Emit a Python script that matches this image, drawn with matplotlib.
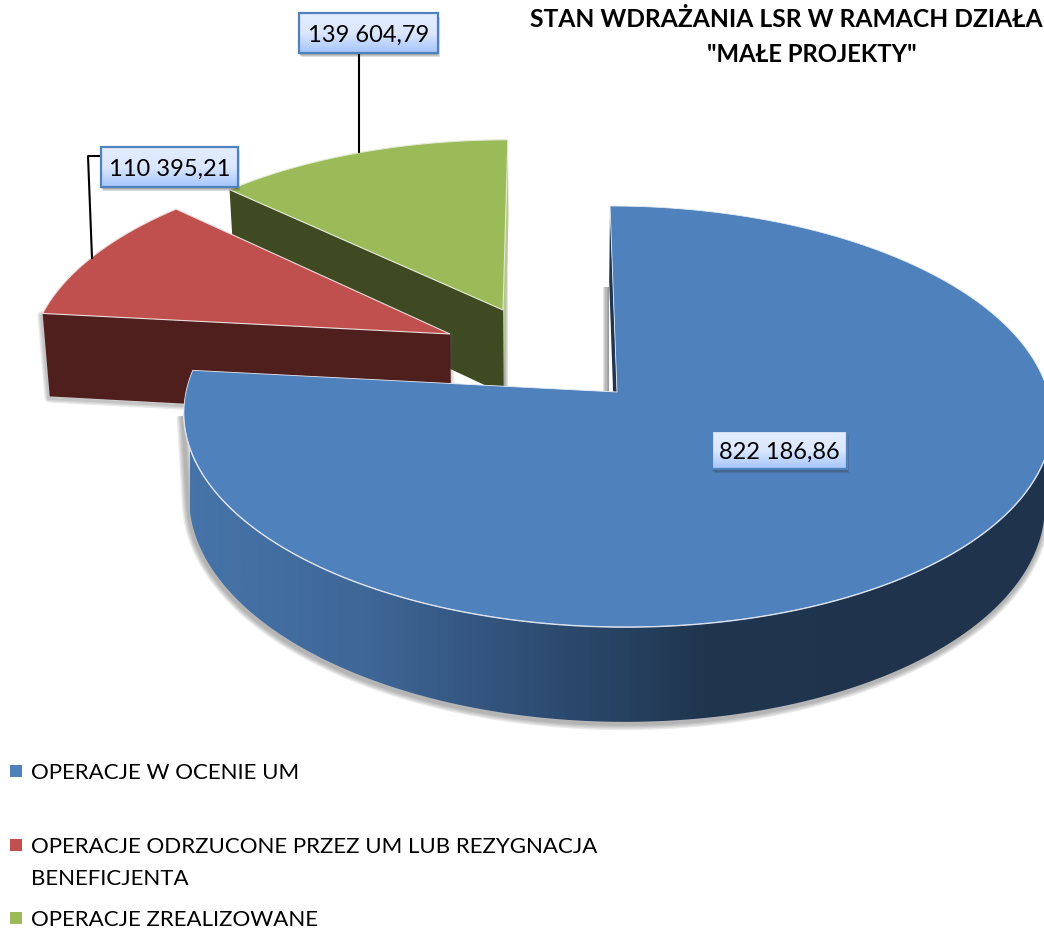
import numpy as np
import matplotlib
matplotlib.use("Agg")
import matplotlib.pyplot as plt
from matplotlib.colors import LinearSegmentedColormap
from matplotlib.patches import Polygon, Rectangle

plt.rcParams['font.family'] = ['Lato', 'DejaVu Sans']

# Data
categories = ["OPERACJE W OCENIE UM",
              "OPERACJE ODRZUCONE PRZEZ UM LUB REZYGNACJA\nBENEFICJENTA",
              "OPERACJE ZREALIZOWANE"]
values = [822186.86, 110395.21, 139604.79]
# first line runs off the right edge in the original, only this much of it shows
title_lines = ["STAN WDRAŻANIA LSR W RAMACH DZIAŁA", '"MAŁE PROJEKTY"']

# Colours
top_colors = ["#4f81bd", "#c0504d", "#9bbb59"]
wall_colors = ["#1f3550", "#4f1f1e", "#3f4a23"]
face_colors = ["#1f3550", "#4f1f1e", "#b4c98a"]

# Pie geometry in pixels: apex of each slice and its size factors
apex = [(617, 392), (450, 334), (503, 310)]
sizes = [(1.0, 1.0), (0.965, 0.95), (0.95, 0.915)]
RX = 431
RY = 207.6
PERSP = 0.116
VANISH_X = 550
DEPTH = 84
BOTTOM_SHRINK = 0.986

fig = plt.figure(figsize=(10.44, 9.30), dpi=100)
ax = fig.add_axes([0, 0, 1, 1])
ax.set_axis_off()


def project(i, ang, r=1.0, low=False):
    # ang in degrees clockwise from 12 o'clock
    u = r * np.sin(np.radians(ang))
    v = r * np.cos(np.radians(ang))
    s = 1 / (1 + PERSP * v)
    cx, cy = apex[i]
    sx, sy = sizes[i]
    x = VANISH_X + (cx - VANISH_X + RX * sx * u) * s
    y = cy - RY * sy * v * s
    if low:
        x = VANISH_X + (x - VANISH_X) * BOTTOM_SHRINK
        y = y + DEPTH * s
    return np.column_stack([x, y])


def soft_outline(xy, z, off=(-1, 2), widths=(9, 7, 5, 3)):
    for w in widths:
        ax.add_patch(Polygon(xy + np.array(off), closed=True, fc="none", ec="#555555",
                             lw=w, alpha=0.13, zorder=z, joinstyle="round"))


def soft_line(xy, z, off=(-1, 2), widths=(9, 7, 5, 3)):
    for w in widths:
        ax.plot(xy[:, 0] + off[0], xy[:, 1] + off[1], color="#555555", lw=w, alpha=0.13,
                zorder=z, solid_capstyle="butt")


def soft_bar(x0, x1, y0, y1, z):
    # shadow that fades from x0 towards x1
    n = 5
    for k in range(n):
        t = k / n
        ax.add_patch(Rectangle((x0, y0), (x1 - x0) * (1 - t), y1 - y0,
                               fc="#555555", ec="none", alpha=0.16, zorder=z))


def gradient_fill(patch, extent, colors, vertical=False, z=1):
    ax.add_patch(patch)
    patch.set_visible(False)
    cmap = LinearSegmentedColormap.from_list("g", colors)
    g = np.linspace(0, 1, 256)
    g = g[:, None] if vertical else g[None, :]
    im = ax.imshow(g, extent=extent, cmap=cmap, aspect="auto", zorder=z,
                   interpolation="bilinear")
    im.set_clip_path(patch)


def value_label(text, x0, y0, x1, y1, z=20):
    for k in [3, 2, 1]:
        ax.add_patch(Rectangle((x0 - 1 + k, y0 + 1 + k), x1 - x0, y1 - y0, fc="#333333",
                               ec="none", alpha=0.16, zorder=z))
    box = Rectangle((x0, y0), x1 - x0, y1 - y0, transform=ax.transData)
    gradient_fill(box, (x0, x1, y1, y0), ["#e4edff", "#dbe7fe", "#a5c5fb"], vertical=True, z=z + 1)
    ax.add_patch(Rectangle((x0, y0), x1 - x0, y1 - y0, fc="none", ec="#4f81bd", lw=1.6, zorder=z + 2))
    ax.text((x0 + x1) / 2, (y0 + y1) / 2 + 2, text, ha="center", va="center",
            fontsize=17, color="#000000", zorder=z + 3)


# Slice angles from the values
total = sum(values)
edges = np.concatenate([[0], np.cumsum(values)]) / total * 360

# Green slice (back)
a0, a1 = edges[2], edges[3]
cut = np.vstack([project(2, a0), project(2, a0, 0), project(2, a0, 0, True), project(2, a0, 1, True)])
side = np.vstack([project(2, a1), project(2, a1, 0), project(2, a1, 0, True), project(2, a1, 1, True)])
soft_bar(503, 508, 217, 386, 2)
ax.add_patch(Polygon(side, closed=True, fc=face_colors[2], ec="none", zorder=3))
ax.add_patch(Polygon(cut, closed=True, fc=wall_colors[2], ec="none", zorder=3))
arc = project(2, np.linspace(a0, a1, 60))
top = np.vstack([project(2, a0, 0), arc])
ax.add_patch(Polygon(top, closed=True, fc=top_colors[2], ec="#e4ead6", lw=0.8, zorder=4))

# Red slice
a0, a1 = edges[1], edges[2]
cut = np.vstack([project(1, a0), project(1, a0, 0), project(1, a0, 0, True), project(1, a0, 1, True)])
soft_outline(cut, 5, off=(-1, 2), widths=(6, 4, 2))
ax.add_patch(Polygon(cut, closed=True, fc=wall_colors[1], ec="none", zorder=6))
arc = project(1, np.linspace(a0, a1, 60))
top = np.vstack([project(1, a0, 0), arc])
ax.add_patch(Polygon(top, closed=True, fc=top_colors[1], ec="#ecdcdc", lw=0.8, zorder=7))

# Blue slice (front)
a0, a1 = edges[0], edges[1]
side = np.vstack([project(0, a0), project(0, a0, 0), project(0, a0, 0, True), project(0, a0, 1, True)])
soft_bar(609, 603, 287, 392, 8)
ax.add_patch(Polygon(side, closed=True, fc=face_colors[0], ec="none", zorder=9))
rim_angles = np.linspace(97, 264, 200)
wall = np.vstack([project(0, rim_angles), project(0, rim_angles[::-1], 1, True)])
soft_line(np.vstack([project(0, rim_angles[::-1][:1]), project(0, rim_angles[::-1], 1, True)]), 9)
gradient_fill(Polygon(wall, closed=True, transform=ax.transData), (190, 1044, 730, 400),
              ["#4674a8", "#3f6798", "#2f4e75", "#20364f", "#1f334c", "#1f334c"], z=10)
rim = project(0, rim_angles)
ax.plot(rim[:, 0], rim[:, 1], color="#dbe3ec", lw=1.4, zorder=11)
arc = project(0, np.linspace(a0, a1, 300))
top = np.vstack([project(0, a0, 0), arc])
ax.add_patch(Polygon(top, closed=True, fc=top_colors[0], ec="#e6ecf4", lw=0.6, zorder=12))

# Leader lines
ax.plot([359, 359], [53, 152], color="black", lw=1.5, zorder=15)
ax.plot([100, 88, 92], [156, 156, 258], color="black", lw=1.5, zorder=15)

# Value labels
labels = [f"{v:,.2f}".replace(",", " ").replace(".", ",") for v in values]
value_label(labels[0], 712, 431, 847, 469)
value_label(labels[1], 101, 147, 238, 187)
value_label(labels[2], 299, 13, 438, 53)

# Title
ax.text(530, 19.5, title_lines[0], ha="left", va="center", fontsize=17.7, fontweight="bold", color="black")
ax.text(812, 54, title_lines[1], ha="center", va="center", fontsize=17.2, fontweight="bold", color="black")

# Legend
legend_y = [771, 845, 918]
for name, col, y in zip(categories, top_colors, legend_y):
    ax.add_patch(Rectangle((10, y - 6), 12, 12, fc=col, ec="none"))
    ax.text(31, y + 1.5, name.split("\n")[0], ha="left", va="center", fontsize=16, color="black")
    if "\n" in name:
        ax.text(31, y + 33.5, name.split("\n")[1], ha="left", va="center", fontsize=16, color="black")

ax.set_xlim(0, 1044)
ax.set_ylim(930, 0)
fig.savefig("out.png", dpi=100, facecolor="white")
